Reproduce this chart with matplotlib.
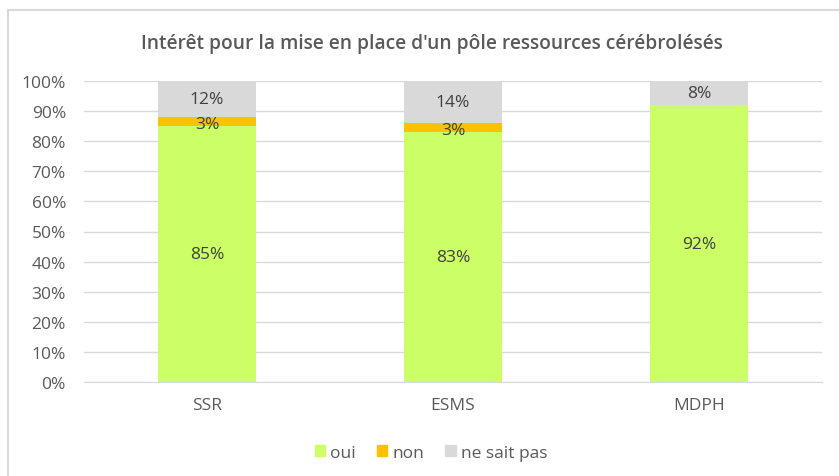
import matplotlib.pyplot as plt
import matplotlib.patches as mpatches
import numpy as np

categories = ['SSR', 'ESMS', 'MDPH']
oui = [85, 83, 92]
non = [3, 3, 0]
nsp = [12, 14, 8]
series_names = ['oui', 'non', 'ne sait pas']
colors = ['#CCFF66', '#FFC000', '#D9D9D9']
yticks = [0, 10, 20, 30, 40, 50, 60, 70, 80, 90, 100]

plt.rcParams['font.family'] = ['Open Sans', 'DejaVu Sans']
txt = '#595959'

fig = plt.figure(figsize=(8.39, 4.77), dpi=100)
W, H = 839, 477

# chart frame (light gray border, cut on right/bottom)
fig.add_artist(mpatches.Rectangle((8 / W, -0.1), 1.0, (H - 11) / H + 0.1,
                                  transform=fig.transFigure, fill=False,
                                  edgecolor='#D9D9D9', linewidth=1.5))

ax = fig.add_axes([84 / W, 1 - 383 / H, (822 - 84) / W, (383 - 82) / H])
x = np.arange(len(categories))
bw = 0.4
bottom = np.zeros(len(categories))
for vals, name, c in zip([oui, non, nsp], series_names, colors):
    vals = np.array(vals, dtype=float)
    ax.bar(x, vals, bw, bottom=bottom, color=c, label=name, zorder=2)
    for xi, b, v in zip(x, bottom, vals):
        if v > 0:
            yy = b + v / 2
            if name == 'non':
                yy = b + v / 2 - 0.8
            ax.text(xi, yy, '%d%%' % v, ha='center', va='center',
                    fontsize=12.5, color='#404040', zorder=3)
    bottom += vals

ax.set_xlim(-0.5, 2.5)
ax.set_ylim(0, 100)
ax.set_yticks(yticks)
ax.set_yticklabels(['%d%%' % t for t in yticks])
ax.set_xticks(x)
ax.set_xticklabels(categories)
ax.grid(axis='y', color='#D9D9D9', linewidth=1, zorder=0)
for s in ['top', 'right', 'left']:
    ax.spines[s].set_visible(False)
ax.spines['bottom'].set_color('#D9D9D9')
ax.tick_params(axis='both', length=0, colors=txt, labelsize=12.5)
ax.tick_params(axis='x', pad=11)
ax.tick_params(axis='y', pad=13)

fig.text(432 / W, 1 - 44 / H, "Intérêt pour la mise en place d'un pôle ressources cérébrolésés",
         ha='center', va='center', fontsize=13.8, color=txt, fontweight='semibold')

handles = [mpatches.Patch(color=c) for c in colors]
fig.legend(handles, series_names, loc='center', bbox_to_anchor=(431 / W, 1 - 454 / H),
           ncol=3, frameon=False, fontsize=12.5, labelcolor=txt,
           handlelength=0.6, handleheight=0.6, handletextpad=0.3, columnspacing=1.2)

fig.savefig('out.png', dpi=100, facecolor='white')
